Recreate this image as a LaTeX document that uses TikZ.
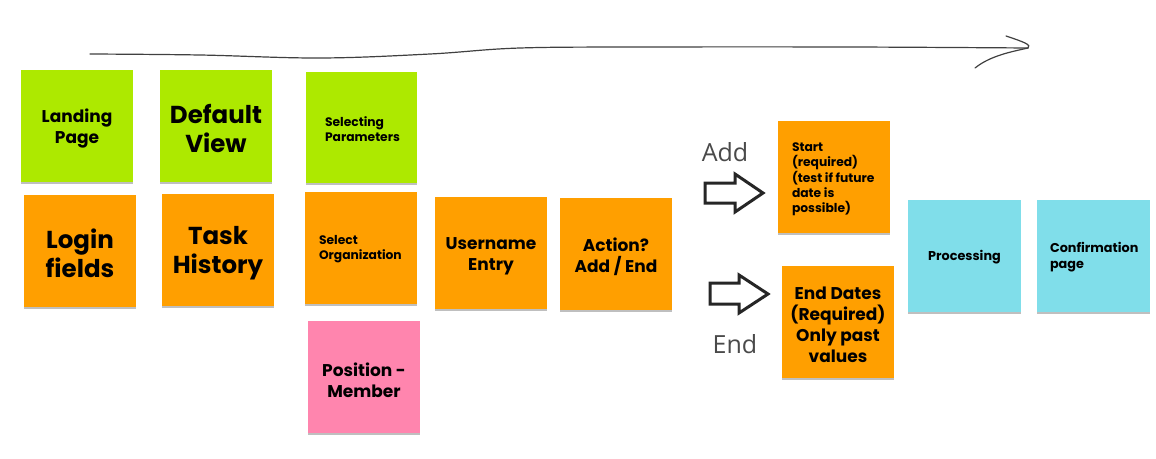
\documentclass[tikz,border=0pt]{standalone}
\usepackage{fontspec}
\setmainfont{Poppins}
\newfontfamily\labfont{Open Sans}
\usetikzlibrary{shadows}
\definecolor{cgreen}{HTML}{ADE900}
\definecolor{corange}{HTML}{FF9F00}
\definecolor{cpink}{HTML}{FF85AE}
\definecolor{cblue}{HTML}{80DEEA}
\definecolor{cgray}{HTML}{4A4A4A}
\tikzset{
  note/.style={minimum width=112pt, minimum height=112pt, inner sep=0pt,
    drop shadow={shadow xshift=0pt, shadow yshift=-1.5pt, opacity=0.25, fill=black}},
  big/.style={font=\fontsize{24.5}{29}\selectfont\bfseries, align=center, inner sep=0pt},
  mid/.style={font=\fontsize{17}{21}\selectfont\bfseries, align=center, inner sep=0pt},
  small/.style={font=\fontsize{12.3}{15}\selectfont\bfseries, align=left, inner sep=0pt, anchor=west},
  blockarrow/.style={draw=black!85, line width=3pt, fill=white, line join=miter},
  side/.style={font=\labfont\fontsize{25}{30}\selectfont, text=cgray, inner sep=0pt},
}
\begin{document}
\begin{tikzpicture}[x=1pt,y=-1pt]
\useasboundingbox[fill=white] (0,0) rectangle (1156,458);
% timeline arrow
\draw[line width=1.2pt, black!75, line cap=round] plot[smooth, tension=0.6] coordinates
  {(90,54) (200,55) (320,58) (430,54) (520,48) (650,47) (850,47) (1028,48)};
\coordinate (tip) at (1028,48);
\draw[line width=1.2pt, black!75, line cap=round] (1006,36) .. controls (1024,42) and (1032,45) .. (tip);
\draw[line width=1.2pt, black!75, line cap=round] (tip) .. controls (1010,52) and (990,56) .. (975,68);
% notes
\node[note, fill=cgreen] (land) at (77,126) {};
\node[mid] (landt) at ([yshift=-3pt]land.center) {Landing\\Page};
\node[note, fill=cgreen] (defv) at (216,126) {};
\node[big] (defvt) at ([yshift=-2pt]defv.center) {Default\\View};
\node[note, fill=cgreen, minimum width=111pt, minimum height=111pt] (selp) at (361.5,127.5) {};
\node[small] (selpt) at ([xshift=19pt, yshift=-1.5pt]selp.west) {Selecting\\Parameters};
\node[note, fill=corange] (login) at (80,251) {};
\node[big] (logint) at ([yshift=-2pt]login.center) {Login\\fields};
\node[note, fill=corange] (task) at (218,250) {};
\node[big] (taskt) at ([yshift=-3pt]task.center) {Task\\History};
\node[note, fill=corange] (selo) at (361,248) {};
\node[small] (selot) at ([xshift=14pt, yshift=-1.5pt]selo.west) {Select\\Organization};
\node[note, fill=corange] (user) at (491,253) {};
\node[mid] (usert) at ([yshift=-3pt]user.center) {Username\\Entry};
\node[note, fill=corange] (act) at (616,254) {};
\node[mid] (actt) at ([yshift=-3pt]act.center) {Action?\\Add / End};
\node[note, fill=cpink] (pos) at (364,377) {};
\node[mid] (post) at ([yshift=-3pt]pos.center) {Position -\\Member};
\node[note, fill=corange] (start) at (834,177) {};
\node[small, font=\fontsize{12.3}{15.3}\selectfont\bfseries] (startt) at ([xshift=14pt, yshift=-2.5pt]start.west)
  {Start\\(required)\\(test if future\\date is\\possible)};
\node[note, fill=corange] (endd) at (838,322) {};
\node[mid] (enddt) at ([yshift=-3pt]endd.center) {End Dates\\(Required)\\Only past\\values};
\node[note, fill=cblue, minimum width=113pt] (proc) at (964.5,256) {};
\node[mid, font=\fontsize{12.8}{15}\selectfont\bfseries] (proct) at ([yshift=-1.5pt]proc.center) {Processing};
\node[note, fill=cblue, minimum width=113pt] (conf) at (1093.5,256) {};
\node[small, font=\fontsize{12.8}{16}\selectfont\bfseries] (conft) at ([xshift=13pt, yshift=-1.5pt]conf.west) {Confirmation\\page};
% side labels
\node[side] (addl) at (725,152) {Add};
\node[side] (endl) at (735,344) {End};
% block arrows
\draw[blockarrow] (705,183) -- (735,183) -- (735,174) -- (763,193) -- (735,212) -- (735,203) -- (705,203) -- cycle;
\draw[blockarrow] (710,283) -- (739,283) -- (739,275) -- (768,294) -- (739,313) -- (739,304) -- (710,304) -- cycle;
\end{tikzpicture}
\end{document}
